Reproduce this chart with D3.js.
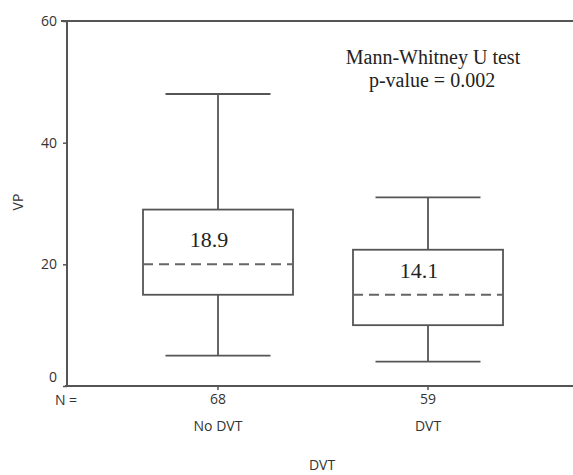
<!DOCTYPE html>
<html>
<head>
<meta charset="utf-8">
<script src="https://cdn.jsdelivr.net/npm/d3@7"></script>
<style>
  body { margin: 0; background: #fff; }
  .tick text { font-family: "Open Sans", "DejaVu Sans", sans-serif; font-size: 14px; fill: #333; }
</style>
</head>
<body>
<script>
// box plot of VP per group
var groups = ["No DVT", "DVT"];
var counts = [68, 59];
var whiskerLow = [5, 4];
var q1 = [15, 10];
var medians = [20, 15];
var q3 = [29, 22.4];
var whiskerHigh = [48, 31];
var meanLabels = ["18.9", "14.1"];
var yTicks = [0, 20, 40, 60];

var width = 573, height = 475;
var plotLeft = 67, plotTop = 21, plotBottom = 386;

var svg = d3.select("body").append("svg")
    .attr("width", width)
    .attr("height", height);

var y = d3.scaleLinear().domain([0, 60]).range([plotBottom, plotTop]);
var x = d3.scaleBand().domain(groups).range([113, 533]);

var lineCol = "#555";

// y axis
var yAxis = svg.append("g")
    .attr("transform", "translate(" + plotLeft + ",0)")
    .call(d3.axisLeft(y).tickValues(yTicks).tickSize(4).tickPadding(6));
yAxis.select(".domain").remove();
yAxis.selectAll(".tick line").attr("stroke", lineCol).attr("stroke-width", 1.5);
yAxis.selectAll(".tick text").attr("dy", function(d) { return d === 0 ? "-0.3em" : "0.32em"; });

// frame: left, top, bottom
svg.append("line").attr("x1", plotLeft).attr("x2", plotLeft).attr("y1", plotTop).attr("y2", plotBottom)
    .attr("stroke", lineCol).attr("stroke-width", 2);
svg.append("line").attr("x1", plotLeft - 6).attr("x2", width).attr("y1", plotTop).attr("y2", plotTop)
    .attr("stroke", lineCol).attr("stroke-width", 2);
svg.append("line").attr("x1", plotLeft - 2).attr("x2", width).attr("y1", plotBottom).attr("y2", plotBottom)
    .attr("stroke", lineCol).attr("stroke-width", 2);

// x axis ticks with N
var xAxis = svg.append("g")
    .attr("transform", "translate(0," + plotBottom + ")")
    .call(d3.axisBottom(x).tickSize(4).tickPadding(4).tickFormat(function(d, i) { return counts[i]; }));
xAxis.select(".domain").remove();
xAxis.selectAll(".tick line").attr("stroke", lineCol).attr("stroke-width", 1.5);

var sans = '"Open Sans", "DejaVu Sans", sans-serif';

svg.append("text")
    .attr("x", 66).attr("y", 405)
    .attr("text-anchor", "middle")
    .style("font-family", sans).style("font-size", "14px").style("fill", "#333")
    .text("N =");

svg.selectAll(".grp")
    .data(groups)
  .enter().append("text")
    .attr("class", "grp")
    .attr("x", function(d) { return x(d) + x.bandwidth() / 2; })
    .attr("y", 431)
    .attr("text-anchor", "middle")
    .style("font-family", sans).style("font-size", "14px").style("fill", "#333")
    .text(function(d) { return d; });

svg.append("text")
    .attr("x", 322).attr("y", 470)
    .attr("text-anchor", "middle")
    .style("font-family", sans).style("font-size", "14px").style("fill", "#333")
    .text("DVT");

svg.append("text")
    .attr("transform", "translate(23,202) rotate(-90)")
    .attr("text-anchor", "middle")
    .style("font-family", sans).style("font-size", "14px").style("fill", "#333")
    .text("VP");

// boxes
var boxW = 150, capW = 105;
var g = svg.selectAll(".box")
    .data(groups)
  .enter().append("g")
    .attr("class", "box");

function cx(i) { return x(groups[i]) + x.bandwidth() / 2; }

g.append("line")
    .attr("x1", function(d, i) { return cx(i); })
    .attr("x2", function(d, i) { return cx(i); })
    .attr("y1", function(d, i) { return y(whiskerHigh[i]); })
    .attr("y2", function(d, i) { return y(whiskerLow[i]); })
    .attr("stroke", lineCol).attr("stroke-width", 1.8);

g.append("line")
    .attr("x1", function(d, i) { return cx(i) - capW / 2; })
    .attr("x2", function(d, i) { return cx(i) + capW / 2; })
    .attr("y1", function(d, i) { return y(whiskerHigh[i]); })
    .attr("y2", function(d, i) { return y(whiskerHigh[i]); })
    .attr("stroke", lineCol).attr("stroke-width", 1.8);

g.append("line")
    .attr("x1", function(d, i) { return cx(i) - capW / 2; })
    .attr("x2", function(d, i) { return cx(i) + capW / 2; })
    .attr("y1", function(d, i) { return y(whiskerLow[i]); })
    .attr("y2", function(d, i) { return y(whiskerLow[i]); })
    .attr("stroke", lineCol).attr("stroke-width", 1.8);

g.append("rect")
    .attr("x", function(d, i) { return cx(i) - boxW / 2; })
    .attr("width", boxW)
    .attr("y", function(d, i) { return y(q3[i]); })
    .attr("height", function(d, i) { return y(q1[i]) - y(q3[i]); })
    .attr("fill", "#fff")
    .attr("stroke", lineCol).attr("stroke-width", 1.8);

g.append("line")
    .attr("x1", function(d, i) { return cx(i) - boxW / 2; })
    .attr("x2", function(d, i) { return cx(i) + boxW / 2; })
    .attr("y1", function(d, i) { return y(medians[i]); })
    .attr("y2", function(d, i) { return y(medians[i]); })
    .attr("stroke", "#666").attr("stroke-width", 2)
    .attr("stroke-dasharray", "10,6");

g.append("text")
    .attr("x", function(d, i) { return cx(i) - 9; })
    .attr("y", function(d, i) { return y(medians[i]) - 17; })
    .attr("text-anchor", "middle")
    .style("font-family", '"Liberation Serif", "Times New Roman", serif')
    .style("font-size", "22px").style("fill", "#222")
    .text(function(d, i) { return meanLabels[i]; });

// test annotation
var note = svg.append("text")
    .attr("text-anchor", "middle")
    .style("font-family", '"Liberation Serif", "Times New Roman", serif')
    .style("font-size", "20px").style("fill", "#222");
note.append("tspan").attr("x", 433).attr("y", 64).text("Mann-Whitney U test");
note.append("tspan").attr("x", 432).attr("y", 87).text("p-value = 0.002");
</script>
</body>
</html>
